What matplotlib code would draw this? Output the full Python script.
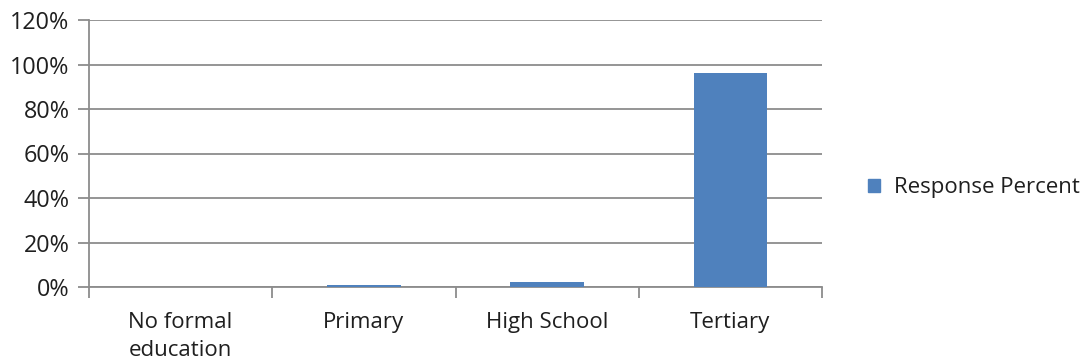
import matplotlib
matplotlib.use("Agg")
import matplotlib.pyplot as plt
from matplotlib.ticker import FuncFormatter
from matplotlib.patches import Patch

categories = ["No formal\neducation", "Primary", "High School", "Tertiary"]
response_percent = [0.0, 1.1, 2.4, 96.0]
y_ticks = [0, 20, 40, 60, 80, 100, 120]
series_name = "Response Percent"

BAR = "#4F81BD"
GRID = "#8C8C8C"
TEXT = "#1F1F1F"
FS = 16

plt.rcParams["font.family"] = ["Open Sans", "DejaVu Sans"]
W, H = 1089, 364
fig = plt.figure(figsize=(W / 100, H / 100), dpi=100)
ax = fig.add_axes([89 / W, (H - 287) / H, (822 - 89) / W, (287 - 20) / H])

x = list(range(len(categories)))
ax.bar(x, response_percent, width=0.4, color=BAR, zorder=3)

ax.set_xlim(-0.5, len(categories) - 0.5)
ax.set_ylim(0, 120)
ax.set_yticks(y_ticks)
ax.yaxis.set_major_formatter(FuncFormatter(lambda v, _: f"{v:.0f}%"))
ax.grid(axis="y", color=GRID, linewidth=1.3, zorder=0)

# category boundary ticks on the x axis
ax.set_xticks([i - 0.5 for i in range(len(categories) + 1)])
ax.set_xticklabels([])
ax.set_xticks(x, minor=True)
ax.set_xticklabels(categories, minor=True, fontsize=FS, color=TEXT, linespacing=1.45)
ax.tick_params(axis="x", which="minor", length=0, pad=18)
ax.tick_params(axis="x", which="major", length=8, width=1.3, color=GRID, direction="out")
ax.tick_params(axis="y", length=8, width=1.3, color=GRID, labelsize=FS + 0.8,
               labelcolor=TEXT, pad=6)

for s in ["top", "right"]:
    ax.spines[s].set_visible(False)
for s in ["left", "bottom"]:
    ax.spines[s].set_color(GRID)
    ax.spines[s].set_linewidth(1.3)

fig.legend(handles=[Patch(color=BAR, label=series_name)],
           loc="center left", bbox_to_anchor=(848 / W, (H - 188) / H),
           frameon=False, fontsize=FS, handlelength=0.55, handleheight=0.55,
           handletextpad=0.6, labelcolor=TEXT)

fig.savefig("out.png", dpi=100)
